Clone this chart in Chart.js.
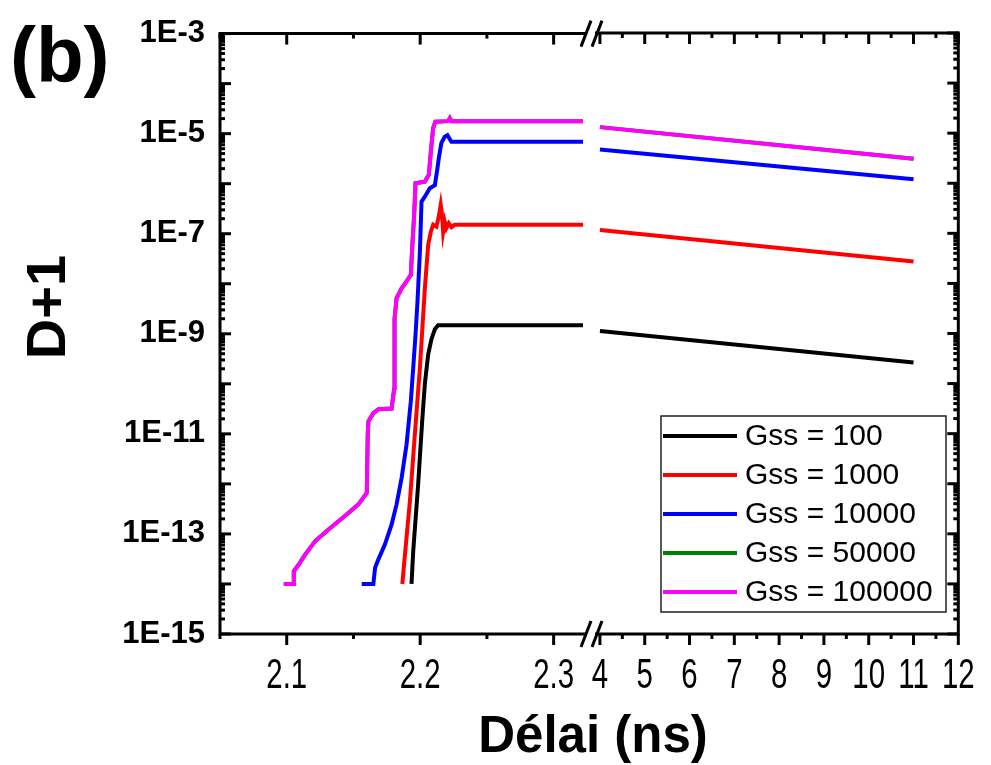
<!DOCTYPE html>
<html>
<head>
<meta charset="utf-8">
<script src="https://cdn.jsdelivr.net/npm/chart.js@4"></script>
<style>
  html, body { margin: 0; padding: 0; background: #fff; }
  #wrap { position: relative; width: 991px; height: 765px; }
  #wrap canvas { position: absolute; left: 0; top: 0; }
</style>
</head>
<body>
<div id="wrap">
  <canvas id="leftChart" width="991" height="765"></canvas>
  <canvas id="rightChart" width="991" height="765"></canvas>
</div>
<script>
// ---- data ----
const seriesLabels = ['Gss = 100', 'Gss = 1000', 'Gss = 10000', 'Gss = 50000', 'Gss = 100000'];
const seriesColors = ['#000000', '#ff0000', '#0000ff', '#008000', '#ff00ff'];

// left part of the broken axis (ns)
const gss100X = [2.1935, 2.1948, 2.1985, 2.2015, 2.2035, 2.206, 2.2085, 2.211, 2.2134, 2.322];
const gss100Y = [1e-14, 4.6e-14, 1e-12, 1.8e-11, 1e-10, 3.9e-10, 7.9e-10, 1.23e-9, 1.48e-9, 1.48e-9];

const gss1000X = [2.1866, 2.1886, 2.1923, 2.196, 2.1998, 2.2035, 2.206, 2.208, 2.2097, 2.2122,
                  2.2142, 2.2154, 2.2164, 2.2172, 2.2184, 2.2196, 2.2214, 2.2234, 2.2259, 2.322];
const gss1000Y = [1e-14, 3.9e-14, 4.5e-13, 9.8e-12, 2.1e-10, 8.1e-9, 6.0e-8, 1.1e-7, 1.51e-7, 1.38e-7,
                  2.4e-7, 3.8e-7, 2.4e-7, 1.1e-7, 1.74e-7, 1.29e-7, 1.62e-7, 1.35e-7, 1.51e-7, 1.51e-7];

const gss10000X = [2.1562, 2.1649, 2.1662, 2.1687, 2.1736, 2.1786, 2.1823, 2.1861, 2.1898, 2.193,
                   2.1948, 2.1965, 2.198, 2.1998, 2.201, 2.2035, 2.2072, 2.211, 2.2129, 2.2139,
                   2.2159, 2.2184, 2.2204, 2.2234, 2.322];
const gss10000Y = [1e-14, 1e-14, 2.1e-14, 3.1e-14, 6.2e-14, 1.55e-13, 3.9e-13, 1.32e-12, 6.2e-12, 4.5e-11,
                   2.1e-10, 9.5e-10, 4.5e-9, 4.4e-8, 4.4e-7, 5.5e-7, 8.1e-7, 9.3e-7, 2.0e-6, 3.2e-6,
                   6.5e-6, 8.7e-6, 9.3e-6, 6.9e-6, 6.9e-6];

const gss100000X = [2.0978, 2.1052, 2.1053, 2.109, 2.1139, 2.1214, 2.1313, 2.1438, 2.1537, 2.16,
                    2.1607, 2.1612, 2.1649, 2.1687, 2.1786, 2.1806, 2.1808, 2.1823, 2.1861, 2.1898,
                    2.193, 2.194, 2.1955, 2.1965, 2.2035, 2.2065, 2.208, 2.2097, 2.2114, 2.2209,
                    2.2222, 2.2234, 2.322];
const gss100000Y = [1e-14, 1e-14, 1.8e-14, 2.45e-14, 3.9e-14, 7.2e-14, 1.23e-13, 2.3e-13, 3.9e-13, 6.6e-13,
                    9.8e-12, 1.78e-11, 2.6e-11, 3.1e-11, 3.2e-11, 8.3e-11, 2.0e-9, 5.1e-9, 8.1e-9, 1.12e-8,
                    1.51e-8, 5.1e-8, 2.4e-7, 1.02e-6, 1.1e-6, 1.51e-6, 4.4e-6, 1.29e-5, 1.74e-5, 1.78e-5,
                    2.04e-5, 1.78e-5, 1.78e-5];

// Gss = 50000 is hidden under the magenta curve in the figure
const gss50000X = gss100000X;
const gss50000Y = gss100000Y;

// right part of the broken axis (ns)
const tailX = [4, 11];
const gss100Tail = [1.12e-9, 2.63e-10];
const gss1000Tail = [1.17e-7, 2.75e-8];
const gss10000Tail = [4.7e-6, 1.2e-6];
const gss50000Tail = [1.32e-5, 3.1e-6];
const gss100000Tail = [1.32e-5, 3.1e-6];

// axes
const leftRange = [2.05, 2.325];
const rightRange = [3.89, 12];
const leftTicks = [2.1, 2.2, 2.3];
const leftMinorTicks = [2.05, 2.15, 2.25];
const rightTicks = [4, 5, 6, 7, 8, 9, 10, 11, 12];
const rightMinorTicks = [4.5, 5.5, 6.5, 7.5, 8.5, 9.5, 10.5, 11.5];
const yRange = [1e-15, 1e-3];
const yTickValues = [1e-15, 1e-13, 1e-11, 1e-9, 1e-7, 1e-5, 1e-3];
const yTickLabels = ['1E-15', '1E-13', '1E-11', '1E-9', '1E-7', '1E-5', '1E-3'];

// ---- layout ----
const W = 991, H = 765;
const AREA = { left: 220, right: 966, top: 33, bottom: 634, breakL: 587, breakR: 595 };
const FONT = "'Liberation Sans', Arial, sans-serif";

const pts = (xs, ys) => xs.map((x, i) => ({ x: x, y: ys[i] }));

function makeDatasets(parts) {
    return parts.map((p, i) => ({
        label: seriesLabels[i],
        data: p,
        borderColor: seriesColors[i],
        backgroundColor: seriesColors[i],
        borderWidth: 4,
        pointRadius: 0,
        tension: 0,
        fill: false,
        order: parts.length - 1 - i   // later series drawn on top
    }));
}

function setTicks(values) {
    return function(scale) {
        scale.ticks = values.map(v => ({ value: v }));
    };
}

function line(ctx, x1, y1, x2, y2) {
    ctx.beginPath();
    ctx.moveTo(x1, y1);
    ctx.lineTo(x2, y2);
    ctx.stroke();
}

// y ticks: long at decades, short at 2..9
function drawYTicks(ctx, y, xEdge, dir) {
    for (let e = -15; e <= -3; e++) {
        for (let m = 1; m <= 9; m++) {
            const v = m * Math.pow(10, e);
            if (v > yRange[1] * 1.0001) break;
            const py = y.getPixelForValue(v);
            const len = m === 1 ? 11 : 5;
            line(ctx, xEdge, py, xEdge + dir * len, py);
        }
    }
}

function drawXTicks(ctx, x, a, majors, minors) {
    majors.forEach(v => {
        const px = x.getPixelForValue(v);
        line(ctx, px, a.bottom, px, a.bottom + 11);
        line(ctx, px, a.top, px, a.top + 11);
    });
    minors.forEach(v => {
        const px = x.getPixelForValue(v);
        line(ctx, px, a.bottom, px, a.bottom + 5);
        line(ctx, px, a.top, px, a.top + 5);
    });
}

// the figure uses tall, condensed tick numbers on the x axis:
// redraw the scale's own labels squeezed horizontally
function drawXLabels(ctx, x) {
    ctx.save();
    ctx.fillStyle = '#000';
    ctx.font = '42px ' + FONT;
    ctx.textAlign = 'center';
    ctx.textBaseline = 'alphabetic';
    x.ticks.forEach((t, i) => {
        const px = x.getPixelForTick(i);
        ctx.save();
        ctx.translate(px, 688);
        ctx.scale(0.7, 1);
        ctx.fillText(t.label, 0, 0);
        ctx.restore();
    });
    ctx.restore();
}

const leftFrame = {
    id: 'leftFrame',
    afterDatasetsDraw(chart) {
        const { ctx, chartArea: a, scales: { x, y } } = chart;
        ctx.save();
        ctx.strokeStyle = '#000';
        ctx.lineWidth = 3;
        line(ctx, a.left, a.top - 1.5, a.left, a.bottom + 1.5);
        line(ctx, a.left, a.top, a.right, a.top);
        line(ctx, a.left, a.bottom, a.right, a.bottom);
        drawXTicks(ctx, x, a, leftTicks, leftMinorTicks);
        drawYTicks(ctx, y, a.left, 1);

        // break marks
        [a.top, a.bottom].forEach(yy => {
            [AREA.breakL - 1, AREA.breakR + 2].forEach(cx => {
                line(ctx, cx - 5, yy + 13, cx + 5, yy - 13);
            });
        });
        drawXLabels(ctx, x);

        // texts
        ctx.fillStyle = '#000';
        ctx.font = 'bold 78px ' + FONT;
        ctx.textAlign = 'left';
        ctx.textBaseline = 'alphabetic';
        ctx.fillText('(b)', 10, 82);

        ctx.font = 'bold 51px ' + FONT;
        ctx.textAlign = 'center';
        ctx.textBaseline = 'middle';
        ctx.fillText('Délai (ns)', (AREA.left + AREA.right) / 2, 738);

        ctx.font = 'bold 56px ' + FONT;
        ctx.save();
        ctx.translate(50, 307);
        ctx.rotate(-Math.PI / 2);
        ctx.fillText('D+1', 0, 0);
        ctx.restore();
        ctx.restore();
    }
};

const rightFrame = {
    id: 'rightFrame',
    afterDatasetsDraw(chart) {
        const { ctx, chartArea: a, scales: { x, y } } = chart;
        ctx.save();
        ctx.strokeStyle = '#000';
        ctx.lineWidth = 3;
        line(ctx, a.right, a.top - 1.5, a.right, a.bottom + 1.5);
        line(ctx, a.left, a.top, a.right, a.top);
        line(ctx, a.left, a.bottom, a.right, a.bottom);
        drawXTicks(ctx, x, a, rightTicks, rightMinorTicks);
        drawYTicks(ctx, y, a.right, -1);
        drawXLabels(ctx, x);

        // legend box
        const box = { left: 661, top: 416, right: 946, bottom: 612 };
        ctx.fillStyle = '#fff';
        ctx.fillRect(box.left, box.top, box.right - box.left, box.bottom - box.top);
        ctx.strokeStyle = '#222';
        ctx.lineWidth = 1.5;
        ctx.strokeRect(box.left, box.top, box.right - box.left, box.bottom - box.top);
        ctx.font = '30px ' + FONT;
        ctx.textAlign = 'left';
        ctx.textBaseline = 'middle';
        chart.data.datasets.forEach((ds, i) => {
            const ry = 436 + i * 39;
            ctx.strokeStyle = ds.borderColor;
            ctx.lineWidth = 4;
            line(ctx, box.left + 2, ry, box.left + 76, ry);
            ctx.fillStyle = '#000';
            ctx.fillText(ds.label, box.left + 84, ry + 1);
        });
        ctx.restore();
    }
};

const yScaleBase = {
    type: 'logarithmic',
    min: yRange[0],
    max: yRange[1],
    grid: { display: false, drawTicks: false },
    border: { display: false },
    afterBuildTicks: setTicks(yTickValues)
};

function xScale(range, ticks, fmt) {
    return {
        type: 'linear',
        min: range[0],
        max: range[1],
        grid: { display: false, drawTicks: false },
        border: { display: false },
        afterBuildTicks: setTicks(ticks),
        afterFit: s => { s.height = H - AREA.bottom; },
        ticks: {
            autoSkip: false,
            maxRotation: 0,
            padding: 16,
            color: 'rgba(0,0,0,0)',   // drawn condensed by the frame plugin
            font: { family: FONT, size: 30 },
            callback: fmt
        }
    };
}

const leftChart = new Chart(document.getElementById('leftChart'), {
    type: 'line',
    data: {
        datasets: makeDatasets([
            pts(gss100X, gss100Y),
            pts(gss1000X, gss1000Y),
            pts(gss10000X, gss10000Y),
            pts(gss50000X, gss50000Y),
            pts(gss100000X, gss100000Y)
        ])
    },
    options: {
        responsive: false,
        animation: false,
        devicePixelRatio: 1,
        layout: { padding: { top: AREA.top, right: W - AREA.breakL, bottom: 0, left: 0 } },
        plugins: { legend: { display: false }, tooltip: { enabled: false } },
        scales: {
            x: xScale(leftRange, leftTicks, v => v.toFixed(1)),
            y: Object.assign({}, yScaleBase, {
                afterFit: s => { s.width = AREA.left; },
                ticks: {
                    padding: 15,
                    color: '#000',
                    font: { family: FONT, size: 31, weight: 'bold' },
                    callback: (v, i) => yTickLabels[i]
                }
            })
        }
    },
    plugins: [leftFrame]
});

const rightChart = new Chart(document.getElementById('rightChart'), {
    type: 'line',
    data: {
        datasets: makeDatasets([
            pts(tailX, gss100Tail),
            pts(tailX, gss1000Tail),
            pts(tailX, gss10000Tail),
            pts(tailX, gss50000Tail),
            pts(tailX, gss100000Tail)
        ])
    },
    options: {
        responsive: false,
        animation: false,
        devicePixelRatio: 1,
        layout: { padding: { top: AREA.top, right: W - AREA.right, bottom: 0, left: AREA.breakR } },
        plugins: { legend: { display: false }, tooltip: { enabled: false } },
        scales: {
            x: xScale(rightRange, rightTicks, v => String(v)),
            y: Object.assign({}, yScaleBase, {
                afterFit: s => { s.width = 0; },
                ticks: { display: false }
            })
        }
    },
    plugins: [rightFrame]
});
</script>
</body>
</html>
